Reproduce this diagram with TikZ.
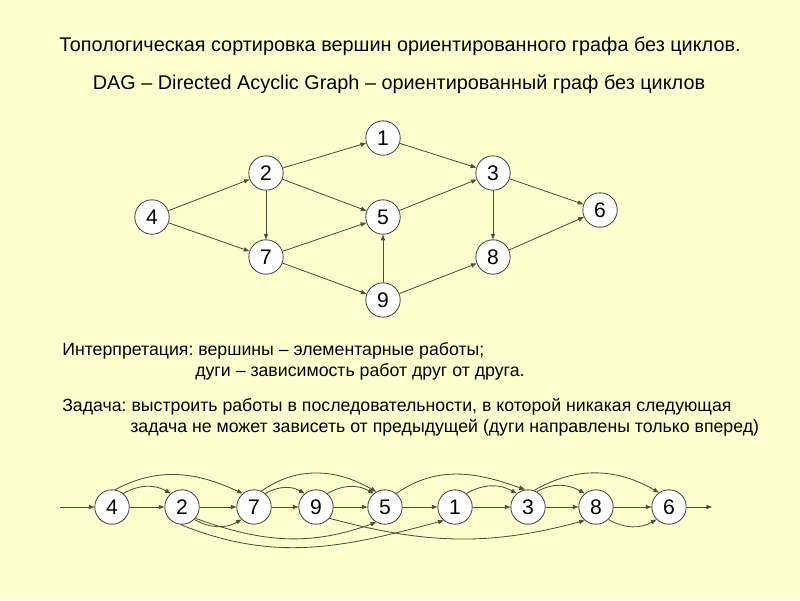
\documentclass[tikz,border=0pt]{standalone}
\usepackage{fontspec}
\setmainfont{Liberation Sans}
\usetikzlibrary{arrows.meta}
\definecolor{paleyellow}{RGB}{255,255,206}
\definecolor{edgegray}{RGB}{78,78,62}
\definecolor{ringgray}{RGB}{70,70,70}
\frenchspacing

\begin{document}
\begin{tikzpicture}[
    x=0.025cm, y=-0.025cm,
    vertex/.style={circle, draw=ringgray, fill=white, line width=0.6pt, minimum size=0.86cm, inner sep=0pt, font=\fontsize{15}{17}\selectfont},
    arc/.style={draw=edgegray, line width=0.6pt, -{Triangle[length=4pt, width=3pt]}},
    txt/.style={anchor=west, inner sep=0pt, font=\fontsize{12.6}{15}\selectfont}
  ]
    \fill[paleyellow] (0,0) rectangle (800,600);
    \useasboundingbox (0,0) rectangle (800,600);

    % headings
    \node[font=\fontsize{14.1}{17}\selectfont] (title) at (400,46) {Топологическая сортировка вершин ориентированного графа без циклов.};
    \node[font=\fontsize{14.1}{17}\selectfont] (dag) at (399,84) {DAG – Directed Acyclic Graph – ориентированный граф без циклов};

    % the graph
    \node[vertex] (v1) at (383,138) {1};
    \node[vertex] (v2) at (266,173) {2};
    \node[vertex] (v3) at (493,173) {3};
    \node[vertex] (v4) at (152,217) {4};
    \node[vertex] (v5) at (383,217) {5};
    \node[vertex] (v6) at (600,210) {6};
    \node[vertex] (v7) at (266,257) {7};
    \node[vertex] (v8) at (493,257) {8};
    \node[vertex] (v9) at (383,300) {9};
    \foreach \a/\b in {4/2, 4/7, 2/1, 2/5, 2/7, 7/5, 7/9, 9/5, 9/8, 5/3, 1/3, 3/6, 3/8, 8/6}
      \draw[arc] (v\a) -- (v\b);

    % interpretation and task
    \node[txt] (interp) at (62,351) {Интерпретация: вершины – элементарные работы;};
    \node[txt] (interp2) at (195,372) {дуги – зависимость работ друг от друга.};
    \node[txt] (task) at (62,407) {Задача: выстроить работы в последовательности, в которой никакая следующая};
    \node[txt] (task2) at (130,428) {задача не может зависеть от предыдущей (дуги направлены только вперед)};

    % sorted row
    \coordinate (in) at (60,507);
    \coordinate (out) at (712,507);
    \node[vertex] (s4) at (112,507) {4};
    \node[vertex] (s2) at (182,507) {2};
    \node[vertex] (s7) at (254,507) {7};
    \node[vertex] (s9) at (316,507) {9};
    \node[vertex] (s5) at (385,507) {5};
    \node[vertex] (s1) at (455,507) {1};
    \node[vertex] (s3) at (528,507) {3};
    \node[vertex] (s8) at (596,507) {8};
    \node[vertex] (s6) at (669,507) {6};
    \draw[arc] (in) -- (s4);
    \foreach \a/\b in {4/2, 2/7, 7/9, 9/5, 5/1, 1/3, 3/8, 8/6}
      \draw[arc] (s\a) -- (s\b);
    \draw[arc] (s6) -- (out);

    % arcs above
    \draw[arc] (s4.50) to[out=30, in=150] (s2.130);
    \draw[arc] (s4.80) to[out=28, in=155] (s7.130);
    \draw[arc] (s7.50) to[out=30, in=150] (s9.130);
    \draw[arc] (s7.65) to[out=35, in=150] (s5.120);
    \draw[arc] (s9.50) to[out=30, in=150] (s5.130);
    \draw[arc] (s5.50) to[out=35, in=160] (s3.100);
    \draw[arc] (s1.50) to[out=30, in=150] (s3.130);
    \draw[arc] (s3.60) to[out=30, in=150] (s8.130);
    \draw[arc] (s3.70) to[out=30, in=150] (s6.125);
    % arcs below
    \draw[arc] (s2.-45) to[out=-30, in=-150] (s7.-135);
    \draw[arc] (s2.-40) to[out=-20, in=-160] (s5.-120);
    \draw[arc] (s2.-95) to[out=-22, in=-165] (s1.-130);
    \draw[arc] (s9.-40) to[out=-15, in=-165] (s8.-130);
    \draw[arc] (s8.-45) to[out=-30, in=-150] (s6.-135);
  \end{tikzpicture}
\end{document}
